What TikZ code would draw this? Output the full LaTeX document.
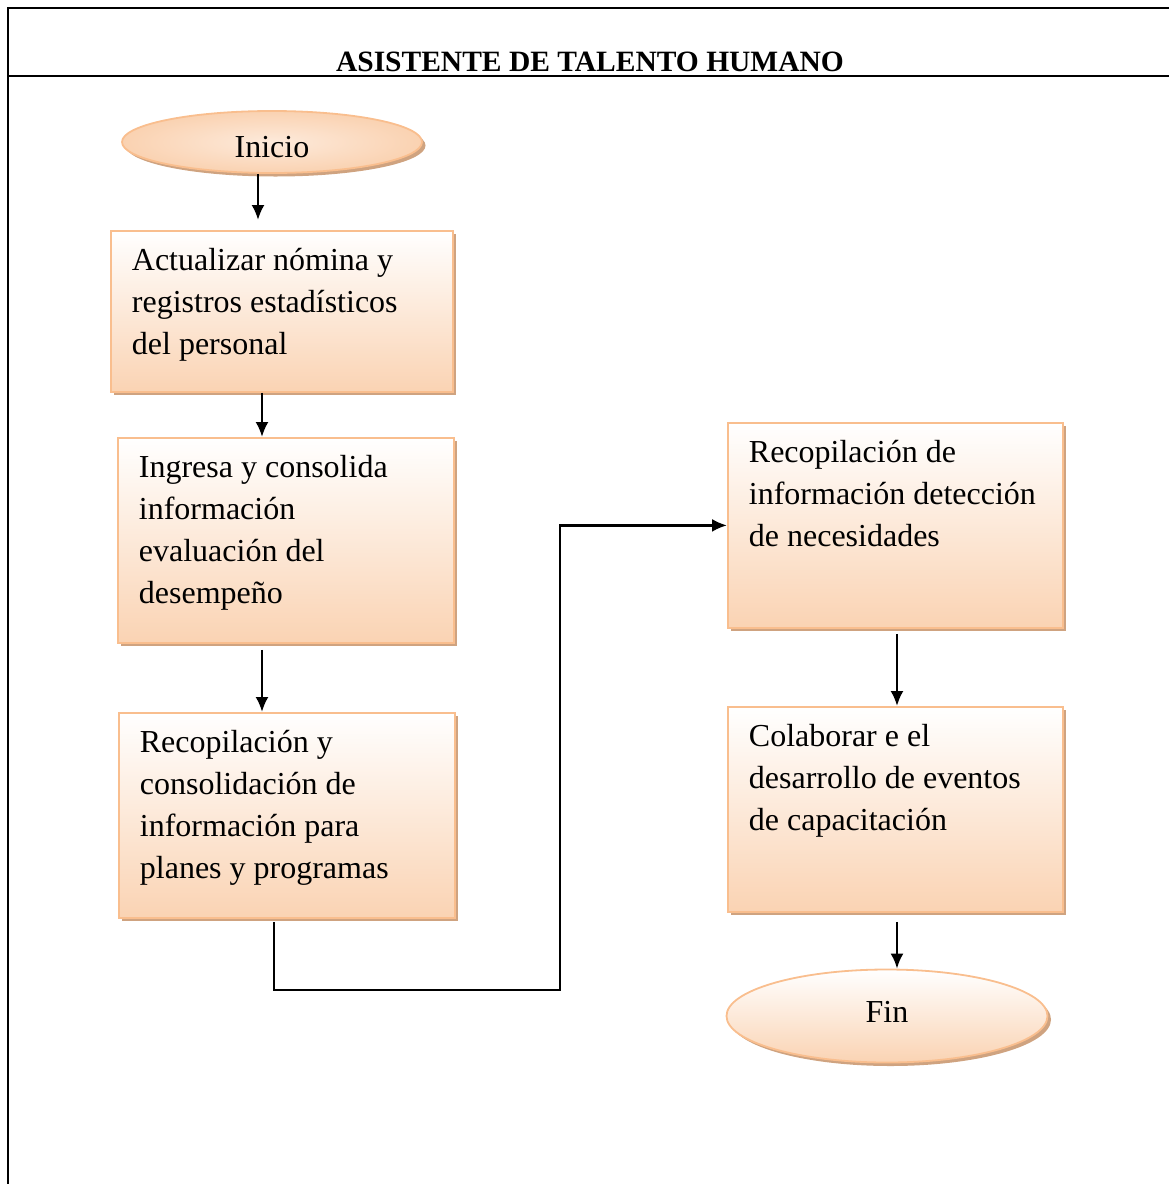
\documentclass[tikz,border=0pt]{standalone}
\usepackage{fontspec}
\setmainfont{Liberation Serif}
\usetikzlibrary{shapes.geometric,shadows,arrows.meta}
\definecolor{peachline}{HTML}{F9BE8E}
\definecolor{peachfill}{HTML}{FAD3B3}
\definecolor{peachlight}{HTML}{FDEADB}
\definecolor{peachshadow}{HTML}{CFA380}
\tikzset{
  frame/.style={line width=2.5pt,line cap=rect},
  flow/.style={line width=2.4pt,-{Latex[length=15pt,width=13pt]}},
  peachshade/.style={draw=peachline,line width=1.8pt,
    drop shadow={shadow xshift=3.5pt,shadow yshift=-3.5pt,fill=peachshadow,opacity=1}},
  procbox/.style={peachshade,top color=white,bottom color=peachfill,
    anchor=north west,inner xsep=21pt,inner ysep=10.6pt,
    font=\fontsize{32}{42}\selectfont},
  terminal/.style={peachshade,ellipse,inner sep=0pt,
    font=\fontsize{32}{42}\selectfont},
  titletext/.style={font=\fontsize{29.5}{34}\selectfont\bfseries,anchor=base}
}
% box: name, x, y, width, height, text
\newcommand{\procnode}[6]{
  \node[procbox] (#1) at (#2,#3) {%
    \parbox[c][\dimexpr#5pt-21.2pt\relax][t]{\dimexpr#4pt-42pt\relax}{\raggedright\strut #6}};
}
\begin{document}
\begin{tikzpicture}[x=1pt,y=-1pt]
  \useasboundingbox (0,0) rectangle (1169,1184);

  % frame of the page
  \draw[frame] (8,1184) -- (8,8) -- (1169,8);
  \draw[frame] (8,76) -- (1169,76);
  \node[titletext] (title) at (590,71) {ASISTENTE DE TALENTO HUMANO};

  % left column
  \node[terminal,inner color=peachlight,outer color=peachfill!95!peachline,
    minimum width=300pt,minimum height=62pt] (start) at (272,142)
    {\raisebox{-15pt}[0pt][0pt]{Inicio}};
  \procnode{box1}{110}{230}{342}{161}{Actualizar nómina y\\registros estadísticos\\del personal}
  \procnode{box2}{117}{437}{336}{205}{Ingresa y consolida\\información\\evaluación del\\desempeño}
  \procnode{box3}{118}{712}{336}{205}{Recopilación y\\consolidación de\\información para\\planes y programas}

  % right column
  \procnode{box4}{727}{422}{335}{205}{Recopilación de\\información detección\\de necesidades}
  \procnode{box5}{727}{706}{335}{205}{Colaborar e el\\desarrollo de eventos\\de capacitación}
  \node[terminal,top color=white,bottom color=peachfill,
    minimum width=321pt,minimum height=93pt] (end) at (887,1016)
    {\raisebox{-6pt}[0pt][0pt]{Fin}};

  % connectors
  \draw[flow,shorten >=10pt] (start.south -| 258,0) -- (box1.north -| 258,0);
  \draw[flow] (box1.south -| 262,0) -- (box2.north -| 262,0);
  \draw[flow,shorten <=6pt] (box2.south -| 262,0) -- (box3.north -| 262,0);
  \coordinate (turn) at (560,990);
  \draw[flow,shorten <=3pt] (box3.south -| 274,0) |- (turn) |- (box4.west);
  \draw[flow,shorten <=5pt] (box4.south -| 897,0) -- (box5.north -| 897,0);
  \draw[flow,shorten <=9pt] (box5.south -| 897,0) -- (end.north -| 897,0);
\end{tikzpicture}
\end{document}
